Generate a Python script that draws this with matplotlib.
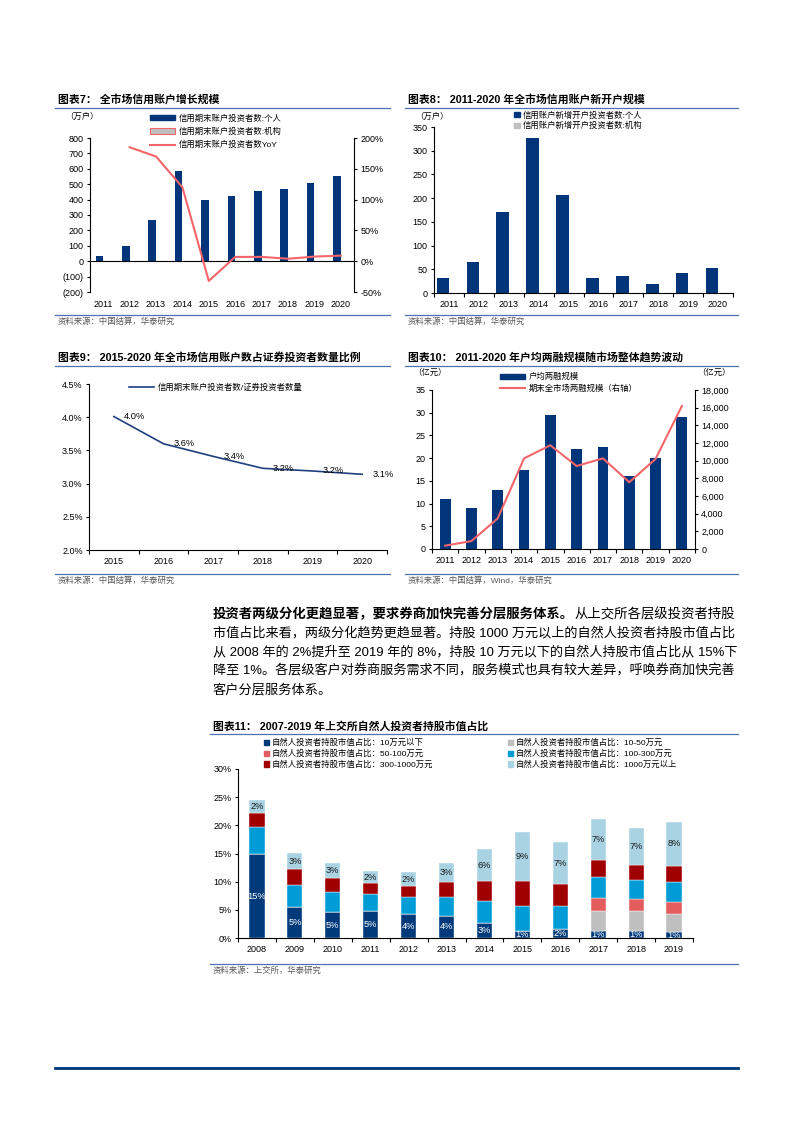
import numpy as np
import matplotlib
matplotlib.use('Agg')
import matplotlib.pyplot as plt
from matplotlib.lines import Line2D
from matplotlib.patches import Patch
from matplotlib.ticker import MultipleLocator, FuncFormatter

plt.rcParams['font.family'] = ['Liberation Sans', 'Noto Sans CJK SC', 'DejaVu Sans']
plt.rcParams['axes.unicode_minus'] = False

## ---------- data ----------
years_10 = [str(y) for y in range(2011, 2021)]

# chart 7: credit accounts at period end (万户)
acct_personal = [32, 97, 266, 586, 398, 424, 454, 469, 508, 556]
acct_inst = [0.3, 0.5, 0.8, 1.2, 1.3, 1.5, 1.7, 1.9, 2.1, 2.4]
acct_yoy = [np.nan, 185, 170, 120, -32, 7, 7, 4, 7.5, 9]

# chart 8: new credit accounts (万户)
new_personal = [32, 65, 171, 327, 207, 32, 35, 20, 42, 52]
new_inst = [0.1, 0.2, 0.3, 0.4, 0.2, 0.1, 0.2, 0.1, 0.2, 0.3]

# chart 9: credit accounts / securities investors
years_6 = [str(y) for y in range(2015, 2021)]
credit_ratio = [4.01, 3.60, 3.41, 3.23, 3.19, 3.14]

# chart 10: margin per account (亿元) and market margin balance (亿元)
margin_avg = [11.0, 9.0, 13.0, 17.4, 29.5, 22.0, 22.5, 16.0, 20.0, 29.1]
margin_total = [382, 895, 3465, 10257, 11743, 9392, 10263, 7557, 10193, 16190]

# chart 11: SSE individual investors' holdings share (%)
years_12 = [str(y) for y in range(2008, 2020)]
share_lt10 = [14.9, 5.46, 4.57, 4.81, 4.22, 3.92, 2.67, 1.19, 1.55, 1.19, 1.19, 1.0]
share_10_50 = [0, 0, 0, 0, 0, 0, 0, 0, 0, 3.56, 3.56, 3.22]
share_50_100 = [0, 0, 0, 0, 0, 0, 0, 0, 0, 2.38, 2.25, 2.25]
share_100_300 = [4.75, 3.98, 3.57, 2.97, 2.97, 3.44, 3.92, 4.57, 4.2, 3.62, 3.21, 3.45]
share_300_1000 = [2.6, 2.85, 2.55, 1.96, 2.01, 2.56, 3.51, 4.34, 3.8, 3.15, 2.79, 2.91]
share_gt1000 = [2.25, 2.73, 2.61, 2.14, 2.45, 3.45, 5.64, 8.66, 7.45, 7.18, 6.6, 7.72]
share_labels = ['自然人投资者持股市值占比：10万元以下', '自然人投资者持股市值占比：10-50万元',
                '自然人投资者持股市值占比：50-100万元', '自然人投资者持股市值占比：100-300万元',
                '自然人投资者持股市值占比：300-1000万元', '自然人投资者持股市值占比：1000万元以上']

## ---------- style ----------
W, H = 793, 1122
NAVY = '#003679'
RED = '#F4656A'
RULE = '#4C72B0'
SRC = '#595959'
FS_TICK = 6.5
FS_LEG = 6
FS_TITLE = 7.8
share_colors = ['#003A7A', '#BFBFBF', '#E35D5F', '#009CD6', '#A10000', '#A9D3E2']

fig = plt.figure(figsize=(W / 100, H / 100), dpi=100)


def add_ax(x0, y0, x1, y1):
    return fig.add_axes([x0 / W, 1 - y1 / H, (x1 - x0) / W, (y1 - y0) / H])


def ftext(x, y, s, **kw):
    return fig.text(x / W, 1 - y / H, s, **kw)


def hline(x0, x1, y, color=RULE, lw=0.9):
    fig.add_artist(Line2D([x0 / W, x1 / W], [1 - y / H, 1 - y / H], color=color, lw=lw))


def frame(title, x0, x1, ytitle, ysrc, src):
    ftext(x0 + 3, ytitle, title, fontsize=FS_TITLE, fontweight='bold', va='center')
    hline(x0, x1, ytitle + 8)
    hline(x0, x1, ysrc - 7)
    ftext(x0 + 3, ysrc, src, fontsize=6, color=SRC, va='center')


def style_ax(ax, between_ticks=True):
    for s in ['top', 'right']:
        ax.spines[s].set_visible(False)
    for s in ['left', 'bottom']:
        ax.spines[s].set_linewidth(0.8)
    ax.tick_params(labelsize=FS_TICK, length=2.5, width=0.8, pad=2)
    if between_ticks:
        n = len(ax.get_xticks())
        ax.set_xticks(np.arange(n + 1) - 0.5, minor=True)
        ax.tick_params(axis='x', which='major', length=0, pad=5)
        ax.tick_params(axis='x', which='minor', length=3, width=0.8)


def leg(ax, handles, labels, x, y, **kw):
    opts = dict(loc='upper left', bbox_to_anchor=(x / W, 1 - y / H), bbox_transform=fig.transFigure,
                frameon=False, fontsize=FS_LEG, borderpad=0, borderaxespad=0, labelspacing=0.35,
                handletextpad=0.4)
    opts.update(kw)
    return ax.legend(handles, labels, **opts)


## ========== 图表7 ==========
frame('图表7： 全市场信用账户增长规模', 55, 390, 100, 322, '资料来源：中国结算，华泰研究')
ax = add_ax(90, 138, 354, 292)
x = np.arange(10)
ax.bar(x - 0.145, acct_personal, 0.29, color=NAVY)
ax.bar(x + 0.145, acct_inst, 0.29, color='#BFBFBF', edgecolor=RED, lw=0.6)
ax.set_xlim(-0.5, 9.5)
ax.set_ylim(-200, 800)
ax.yaxis.set_major_locator(MultipleLocator(100))
ax.yaxis.set_major_formatter(FuncFormatter(lambda v, p: f'({abs(v):.0f})' if v < 0 else f'{v:.0f}'))
ax.axhline(0, color='black', lw=0.8)
ax.set_xticks(x, years_10)
style_ax(ax, between_ticks=False)
ax.spines['bottom'].set_visible(False)
ax.tick_params(axis='x', length=0, pad=6)
ax2 = ax.twinx()
l1, = ax2.plot(x, acct_yoy, color=RED, lw=1.5)
ax2.set_ylim(-50, 200)
ax2.yaxis.set_major_locator(MultipleLocator(50))
ax2.yaxis.set_major_formatter(FuncFormatter(lambda v, p: f'{v:.0f}%'))
for s in ['top', 'bottom', 'left']:
    ax2.spines[s].set_visible(False)
ax2.spines['right'].set_linewidth(0.8)
ax2.tick_params(labelsize=FS_TICK, length=2.5, width=0.8, pad=2)
ftext(65, 117, '（万户）', fontsize=FS_LEG, va='center')
leg(ax2, [Patch(color=NAVY), Patch(facecolor='#BFBFBF', edgecolor=RED, lw=0.8), l1],
    ['信用期末账户投资者数:个人', '信用期末账户投资者数:机构', '信用期末账户投资者数YoY'],
    150, 114, handlelength=3.0, handleheight=0.6, labelspacing=0.6)

## ========== 图表8 ==========
frame('图表8： 2011-2020 年全市场信用账户新开户规模', 405, 738, 100, 322, '资料来源：中国结算，华泰研究')
ax = add_ax(434, 127, 733, 293)
ax.bar(x - 0.2, new_personal, 0.42, color=NAVY)
ax.bar(x + 0.2, new_inst, 0.42, color='#BFBFBF')
ax.set_xlim(-0.5, 9.5)
ax.set_ylim(0, 350)
ax.yaxis.set_major_locator(MultipleLocator(50))
ax.set_xticks(x, years_10)
style_ax(ax)
ftext(415, 117, '（万户）', fontsize=FS_LEG, va='center')
leg(ax, [Patch(color=NAVY), Patch(color='#BFBFBF')],
    ['信用账户新增开户投资者数:个人', '信用账户新增开户投资者数:机构'],
    514, 111, handlelength=0.7, handleheight=0.7, labelspacing=0.3)

## ========== 图表9 ==========
frame('图表9： 2015-2020 年全市场信用账户数占证券投资者数量比例', 55, 390, 358, 581, '资料来源：中国结算，华泰研究')
ax = add_ax(89, 384, 387, 550)
x6 = np.arange(6)
l9, = ax.plot(x6, credit_ratio, color='#1F3F7F', lw=1.2)
for xi, v in zip(x6, credit_ratio):
    ax.annotate(f'{v:.1f}%', (xi, v), xytext=(15, 0), textcoords='offset points',
                ha='center', va='center', fontsize=6.7)
ax.set_xlim(-0.5, 5.5)
ax.set_ylim(2.0, 4.5)
ax.yaxis.set_major_locator(MultipleLocator(0.5))
ax.yaxis.set_major_formatter(FuncFormatter(lambda v, p: f'{v:.1f}%'))
ax.set_xticks(x6, years_6)
style_ax(ax)
leg(ax, [l9], ['信用期末账户投资者数/证券投资者数量'], 129, 383, handlelength=3.0)

## ========== 图表10 ==========
frame('图表10： 2011-2020 年户均两融规模随市场整体趋势波动', 405, 738, 358, 581,
      '资料来源：中国结算，Wind，华泰研究')
ax = add_ax(432, 390, 695, 549)
ax.bar(x, margin_avg, 0.41, color=NAVY)
ax.set_xlim(-0.5, 9.5)
ax.set_ylim(0, 35)
ax.yaxis.set_major_locator(MultipleLocator(5))
ax.set_xticks(x, years_10)
style_ax(ax)
ax2 = ax.twinx()
l10, = ax2.plot(x, margin_total, color=RED, lw=1.5)
ax2.set_ylim(0, 18000)
ax2.yaxis.set_major_locator(MultipleLocator(2000))
ax2.yaxis.set_major_formatter(FuncFormatter(lambda v, p: f'{v:,.0f}'))
for s in ['top', 'bottom', 'left']:
    ax2.spines[s].set_visible(False)
ax2.spines['right'].set_linewidth(0.8)
ax2.tick_params(labelsize=FS_TICK, length=2.5, width=0.8, pad=2)
ftext(413, 373, '（亿元）', fontsize=FS_LEG, va='center')
ftext(697, 373, '（亿元）', fontsize=FS_LEG, va='center')
leg(ax2, [Patch(color=NAVY), l10], ['户均两融规模', '期末全市场两融规模（右轴）'],
    500, 373, handlelength=3.0, handleheight=0.6)

## ========== paragraph ==========
# each full line gets a font size that makes it reach the right margin
para_bold = '投资者两级分化更趋显著，要求券商加快完善分层服务体系。'
para_lines = ['从上交所各层级投资者持股',
              '市值占比来看，两级分化趋势更趋显著。持股 1000 万元以上的自然人投资者持股市值占比',
              '从 2008 年的 2%提升至 2019 年的 8%，持股 10 万元以下的自然人持股市值占比从 15%下',
              '降至 1%。各层级客户对券商服务需求不同，服务模式也具有较大差异，呼唤券商加快完善',
              '客户分层服务体系。']
FS_PARA = 9.3
PX0, PX1, PY0, PDY = 213, 735, 618, 18.8   # PY0 is the baseline of the first line
renderer = fig.canvas.get_renderer()


def parts_width(parts, fs):
    total = 0
    for s, w in parts:
        t = ftext(0, 0, s, fontsize=fs, fontweight=w)
        total += t.get_window_extent(renderer).width
        t.remove()
    return total


rows = [[(para_bold, 'bold'), (para_lines[0], 'normal')]] + [[(s, 'normal')] for s in para_lines[1:]]
sizes = [FS_PARA * (PX1 - PX0) / parts_width(p, FS_PARA) for p in rows[:-1]]
sizes.append(float(np.mean(sizes)))
for i, (parts, fs) in enumerate(zip(rows, sizes)):
    xpos = PX0
    for s, w in parts:
        t = ftext(xpos, PY0 + PDY * i, s, fontsize=fs, fontweight=w, va='baseline')
        xpos += t.get_window_extent(renderer).width

## ========== 图表11 ==========
frame('图表11： 2007-2019 年上交所自然人投资者持股市值占比', 210, 738, 726, 971, '资料来源：上交所，华泰研究')
ax = add_ax(238, 769, 693, 938)
x12 = np.arange(12)
stack = [share_lt10, share_10_50, share_50_100, share_100_300, share_300_1000, share_gt1000]
bottom = np.zeros(12)
for vals, col in zip(stack, share_colors):
    ax.bar(x12, vals, 0.4, bottom=bottom, color=col, edgecolor='white', lw=0.3)
    bottom = bottom + np.array(vals)
top_start = bottom - np.array(share_gt1000)
for xi in x12:
    ax.text(xi, share_lt10[xi] / 2, f'{share_lt10[xi]:.0f}%', ha='center', va='center',
            fontsize=6.7, color='white')
    ax.text(xi, top_start[xi] + share_gt1000[xi] / 2, f'{share_gt1000[xi]:.0f}%', ha='center',
            va='center', fontsize=6.7, color='#1a1a1a')
ax.set_xlim(-0.5, 11.5)
ax.set_ylim(0, 30)
ax.yaxis.set_major_locator(MultipleLocator(5))
ax.yaxis.set_major_formatter(FuncFormatter(lambda v, p: f'{v:.0f}%'))
ax.set_xticks(x12, years_12)
style_ax(ax)
h = [Patch(color=c) for c in share_colors]
lg1 = leg(ax, [h[0], h[2], h[4]], [share_labels[0], share_labels[2], share_labels[4]], 264, 739,
          handlelength=0.6, handleheight=0.6, labelspacing=0.3, handletextpad=0.3)
ax.add_artist(lg1)
leg(ax, [h[1], h[3], h[5]], [share_labels[1], share_labels[3], share_labels[5]], 508, 739,
    handlelength=0.6, handleheight=0.6, labelspacing=0.3, handletextpad=0.3)

## ========== footer ==========
hline(55, 738, 1068, color='#003679', lw=2)

fig.savefig('out.png', dpi=100)
